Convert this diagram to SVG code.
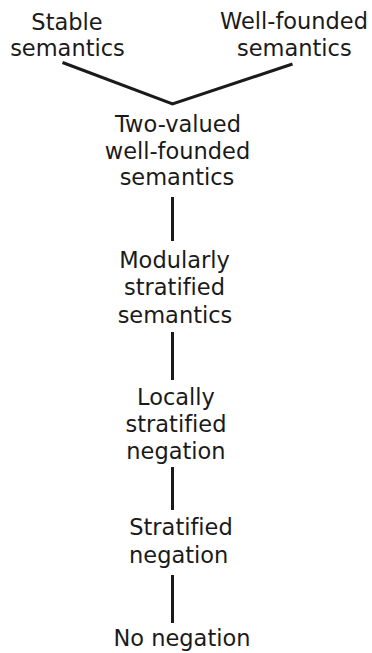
<svg xmlns="http://www.w3.org/2000/svg" width="372" height="653" viewBox="0 0 372 653">
<style>
text{font-family:"DejaVu Sans",Verdana,sans-serif;font-size:22.5px;fill:#1a1a1a;text-anchor:middle;font-variant-ligatures:none}
.c{stroke:#1a1a1a;stroke-width:3;fill:none}
</style>
<rect width="372" height="653" fill="#fff"/>
<g id="connectors">
<polyline class="c" points="62.5,62.5 172.5,104 292.5,64"/>
<line class="c" x1="172.5" y1="197" x2="172.5" y2="241"/>
<line class="c" x1="172.5" y1="332" x2="172.5" y2="380"/>
<line class="c" x1="172.5" y1="467" x2="172.5" y2="510"/>
<line class="c" x1="172.5" y1="575" x2="172.5" y2="623"/>
</g>
<g id="stable"><text x="67" y="29.5">Stable</text><text x="67.5" y="55.5">semantics</text></g>
<g id="wellfounded"><text x="294" y="28.5">Well-founded</text><text x="294.3" y="55.5">semantics</text></g>
<g id="twovalued"><text x="178" y="131.7">Two-valued</text><text x="177.5" y="159">well-founded</text><text x="177" y="185">semantics</text></g>
<g id="modular"><text x="174.5" y="267.5">Modularly</text><text x="174.5" y="295">stratified</text><text x="175" y="322.5">semantics</text></g>
<g id="locally"><text x="176" y="405">Locally</text><text x="176" y="431.7">stratified</text><text x="176" y="459">negation</text></g>
<g id="stratified"><text x="181" y="535">Stratified</text><text x="178.7" y="562.5">negation</text></g>
<g id="none"><text x="182" y="645.5">No negation</text></g>
</svg>
